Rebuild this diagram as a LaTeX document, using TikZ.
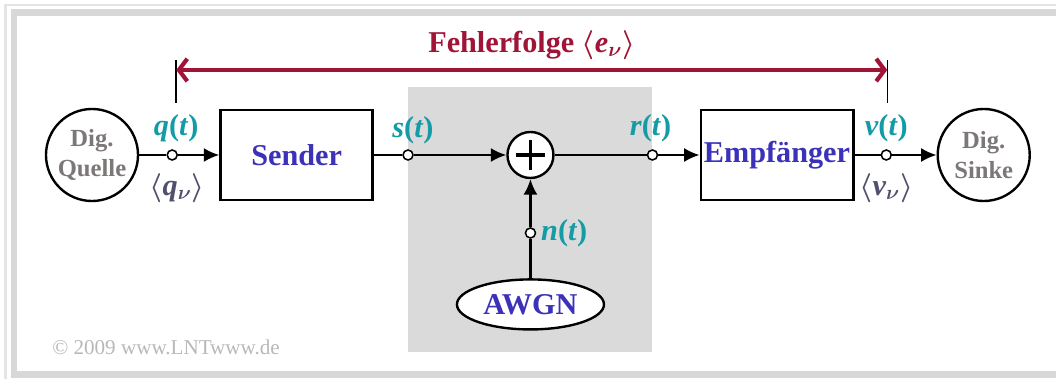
\documentclass[tikz,border=0pt]{standalone}
\usepackage{fontspec}
\setmainfont{Liberation Serif}
\usetikzlibrary{arrows.meta,positioning,calc,backgrounds,shapes.geometric}
\definecolor{sigteal}{RGB}{20,155,165}
\definecolor{blockblue}{RGB}{60,50,185}
\definecolor{errred}{RGB}{160,20,55}
\definecolor{srcgray}{RGB}{125,120,120}
\definecolor{seqgray}{RGB}{80,80,110}
\definecolor{chanfill}{RGB}{218,218,218}
\definecolor{frameout}{RGB}{228,228,228}
\definecolor{frameband}{RGB}{216,216,216}
\tikzset{
  bigfont/.style={font=\fontsize{21.5}{24}\selectfont\bfseries\boldmath},
  blockbox/.style={rectangle,draw=black,line width=2.1pt,fill=white,bigfont,text=blockblue,inner sep=0pt,minimum width=3.8cm,minimum height=2.25cm},
  endnode/.style={circle,draw=black,line width=1.7pt,fill=white,align=center,inner sep=0pt,minimum size=2.3cm,font=\fontsize{17.5}{21}\selectfont\bfseries,text=srcgray},
  addnode/.style={circle,draw=black,line width=1.7pt,fill=white,inner sep=0pt,minimum size=1.15cm,
    path picture={\draw[line width=2.2pt] ($(path picture bounding box.center)+(-0.37cm,0)$) -- ($(path picture bounding box.center)+(0.37cm,0)$)
      ($(path picture bounding box.center)+(0,-0.37cm)$) -- ($(path picture bounding box.center)+(0,0.37cm)$);}},
  noisenode/.style={ellipse,draw=black,line width=1.7pt,fill=white,inner sep=0pt,minimum width=3.675cm,minimum height=1.25cm,bigfont,text=blockblue},
  tapnode/.style={circle,draw=black,line width=1.1pt,fill=white,inner sep=0pt,minimum size=0.25cm},
  siglabel/.style={bigfont,text=sigteal},
  seqlabel/.style={bigfont,text=seqgray},
  errlabel/.style={bigfont,text=errred},
  sigline/.style={line width=1.5pt,draw=black},
  sigarr/.style={sigline,-{Latex[length=11pt,width=10pt]}},
  errarr/.style={line width=3pt,color=errred,{Straight Barb[length=6pt,width=16pt]}-{Straight Barb[length=6pt,width=16pt]}}
}

\begin{document}
\begin{tikzpicture}[x=0.025cm,y=-0.025cm]
  \useasboundingbox (0,0) rectangle (1056,379);
  % frame
  \draw[frameout,line width=1.5pt] (5.5,379) -- (5.5,5) -- (1056,5);
  \draw[frameband,line width=4.5pt] (1056,12.5) -- (14,12.5) -- (14,374.5) -- (1056,374.5);
  \node[font=\fontsize{15}{18}\selectfont,text=black!28] (copy) at (166,347) {© 2009 www.LNTwww.de};

  \node[endnode] (quelle) at (92,155) {Dig.\\Quelle};
  \node[tapnode,right=0.68cm of quelle] (qt) {};
  \node[blockbox,right=2.0cm of quelle] (sender) {Sender};
  \node[tapnode,right=0.7cm of sender] (st) {};
  \node[addnode,right=3.3cm of sender] (adder) {};
  \node[tapnode,right=2.3cm of adder] (rt) {};
  \node[blockbox,right=3.62cm of adder] (empf) {Empfänger};
  \node[tapnode,right=0.65cm of empf] (vt) {};
  \node[endnode,right=2.05cm of empf] (senke) {Dig.\\Sinke};
  \node[tapnode,below=1.2cm of adder] (nt) {};
  \node[noisenode,below=2.475cm of adder] (awgn) {AWGN};

  % signal labels
  \node[siglabel] (qlab) at ($(qt)+(4,-27)$) {\textit{q}(\textit{t})};
  \node[seqlabel] (qseq) at ($(qt)+(5,33)$) {$\langle$\textit{q}$_\nu\rangle$};
  \node[siglabel] (slab) at ($(st)+(5,-25)$) {\textit{s}(\textit{t})};
  \node[siglabel] (rlab) at ($(rt)+(-2,-27)$) {\textit{r}(\textit{t})};
  \node[siglabel] (vlab) at ($(vt)+(0,-27)$) {\textit{v}(\textit{t})};
  \node[seqlabel] (vseq) at ($(vt)+(0,33)$) {$\langle$\textit{v}$_\nu\rangle$};
  \node[siglabel,right=0pt of nt] (nlab) {\textit{n}(\textit{t})};

  % error sequence
  \coordinate (errL) at ($(qt)+(4,-85)$);
  \coordinate (errR) at ($(vt)+(1,-85)$);
  \coordinate (tickLtop) at ($(errL)+(0,-10)$);
  \coordinate (tickLbot) at ($(errL)+(0,33)$);
  \coordinate (tickRtop) at ($(errR)+(0,-10)$);
  \coordinate (tickRbot) at ($(errR)+(0,33)$);
  \draw[line width=1pt] (tickLtop) -- (tickLbot);
  \draw[line width=1pt] (tickRtop) -- (tickRbot);
  \draw[errarr] (errL) -- (errR);
  \node[errlabel] (errlab) at ($(errL)!0.5!(errR)+(0,-25)$) {Fehlerfolge $\langle$\textit{e}$_\nu\rangle$};

  \draw[sigline] (quelle) -- (qt);
  \draw[sigarr] (qt) -- (sender);
  \draw[sigline] (sender) -- (st);
  \draw[sigarr] (st) -- (adder);
  \draw[sigline] (adder) -- (rt);
  \draw[sigarr] (rt) -- (empf);
  \draw[sigline] (empf) -- (vt);
  \draw[sigarr] (vt) -- (senke);
  \draw[sigline] (awgn) -- (nt);
  \draw[sigarr] (nt) -- (adder);

  \begin{pgfonlayer}{background}
    \coordinate (chantop) at (0,87);
    \coordinate (chanbot) at (0,352);
    \fill[chanfill] (st |- chantop) rectangle (rt |- chanbot);
  \end{pgfonlayer}
\end{tikzpicture}
\end{document}
